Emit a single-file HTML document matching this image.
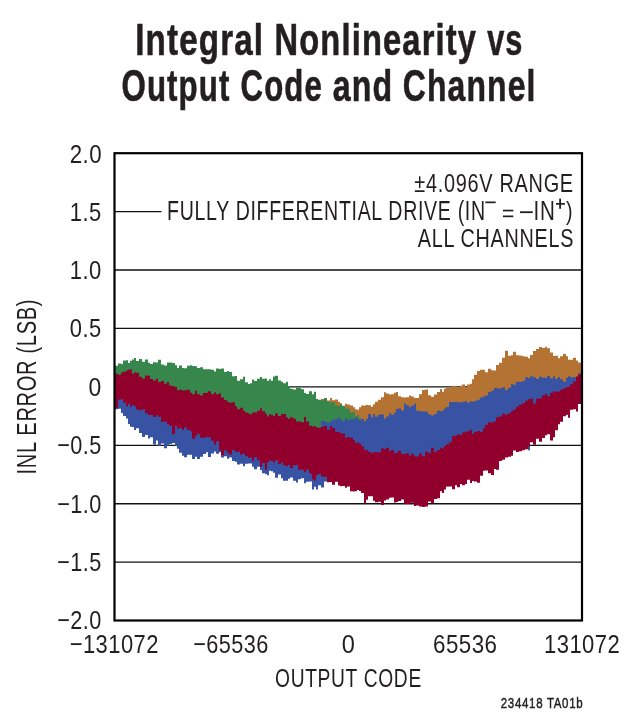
<!DOCTYPE html>
<html><head><meta charset="utf-8"><style>
html,body{margin:0;padding:0;background:#fff;width:637px;height:725px;overflow:hidden}
svg{display:block}
</style></head><body>
<svg width="637" height="725" viewBox="0 0 637 725" style="will-change:transform">
<rect width="637" height="725" fill="#fff"/>
<line x1="114.5" y1="211.6" x2="161.5" y2="211.6" stroke="#111" stroke-width="1.35"/>
<line x1="114.5" y1="270.0" x2="582.0" y2="270.0" stroke="#111" stroke-width="1.35"/>
<line x1="114.5" y1="328.4" x2="582.0" y2="328.4" stroke="#111" stroke-width="1.35"/>
<line x1="114.5" y1="386.8" x2="582.0" y2="386.8" stroke="#111" stroke-width="1.35"/>
<line x1="114.5" y1="445.3" x2="582.0" y2="445.3" stroke="#111" stroke-width="1.35"/>
<line x1="114.5" y1="503.7" x2="582.0" y2="503.7" stroke="#111" stroke-width="1.35"/>
<line x1="114.5" y1="562.1" x2="582.0" y2="562.1" stroke="#111" stroke-width="1.35"/>
<path d="M115.00,373.29 118.00,373.29 118.00,370.38 121.00,370.38 121.00,370.82 123.00,370.82 123.00,372.26 126.00,372.26 126.00,369.47 128.00,369.47 128.00,371.46 130.00,371.46 130.00,372.34 132.00,372.34 132.00,365.43 134.00,365.43 134.00,368.07 136.00,368.07 136.00,369.70 139.00,369.70 139.00,373.46 142.00,373.46 142.00,374.12 145.00,374.12 145.00,370.33 148.00,370.33 148.00,371.74 150.00,371.74 150.00,370.79 153.00,370.79 153.00,370.42 156.00,370.42 156.00,370.74 158.00,370.74 158.00,368.33 161.00,368.33 161.00,369.02 164.00,369.02 164.00,372.48 167.00,372.48 167.00,374.06 169.00,374.06 169.00,372.20 172.00,372.20 172.00,371.72 175.00,371.72 175.00,371.66 177.00,371.66 177.00,377.15 179.00,377.15 179.00,374.43 182.00,374.43 182.00,373.61 184.00,373.61 184.00,377.84 187.00,377.84 187.00,374.75 190.00,374.75 190.00,377.14 192.00,377.14 192.00,373.28 195.00,373.28 195.00,376.94 197.00,376.94 197.00,374.37 200.00,374.37 200.00,378.54 203.00,378.54 203.00,377.50 206.00,377.50 206.00,375.93 208.00,375.93 208.00,376.02 211.00,376.02 211.00,377.46 214.00,377.46 214.00,378.91 216.00,378.91 216.00,376.83 219.00,376.83 219.00,376.73 221.00,376.73 221.00,379.80 224.00,379.80 224.00,380.38 227.00,380.38 227.00,379.77 229.00,379.77 229.00,384.16 232.00,384.16 232.00,386.50 235.00,386.50 235.00,389.74 237.00,389.74 237.00,388.42 240.00,388.42 240.00,388.68 243.00,388.68 243.00,390.17 245.00,390.17 245.00,390.77 248.00,390.77 248.00,389.10 250.00,389.10 250.00,392.15 252.00,392.15 252.00,389.37 254.00,389.37 254.00,391.75 257.00,391.75 257.00,388.29 260.00,388.29 260.00,387.22 262.00,387.22 262.00,388.75 265.00,388.75 265.00,387.49 267.00,387.49 267.00,392.14 269.00,392.14 269.00,392.22 271.00,392.22 271.00,390.59 273.00,390.59 273.00,392.48 275.00,392.48 275.00,393.75 278.00,393.75 278.00,391.79 281.00,391.79 281.00,391.24 283.00,391.24 283.00,389.64 286.00,389.64 286.00,394.72 288.00,394.72 288.00,394.62 290.00,394.62 290.00,396.64 293.00,396.64 293.00,395.91 296.00,395.91 296.00,397.40 298.00,397.40 298.00,394.88 301.00,394.88 301.00,396.69 304.00,396.69 304.00,400.15 306.00,400.15 306.00,399.94 309.00,399.94 309.00,397.40 312.00,397.40 312.00,400.14 314.00,400.14 314.00,401.58 316.00,401.58 316.00,403.23 318.00,403.23 318.00,400.14 321.00,400.14 321.00,399.10 324.00,399.10 324.00,398.39 327.00,398.39 327.00,400.42 330.00,400.42 330.00,398.04 332.00,398.04 332.00,400.22 335.00,400.22 335.00,399.61 338.00,399.61 338.00,401.80 340.00,401.80 340.00,403.21 342.00,403.21 342.00,406.87 345.00,406.87 345.00,403.84 347.00,403.84 347.00,404.62 350.00,404.62 350.00,405.51 353.00,405.51 353.00,407.36 355.00,407.36 355.00,409.31 357.00,409.31 357.00,409.69 359.00,409.69 359.00,407.24 361.00,407.24 361.00,405.42 364.00,405.42 364.00,405.53 366.00,405.53 366.00,404.96 368.00,404.96 368.00,405.37 371.00,405.37 371.00,406.82 373.00,406.82 373.00,404.37 375.00,404.37 375.00,401.83 378.00,401.83 378.00,399.77 381.00,399.77 381.00,397.24 384.00,397.24 384.00,392.32 386.00,392.32 386.00,393.62 389.00,393.62 389.00,394.46 391.00,394.46 391.00,394.20 394.00,394.20 394.00,392.72 396.00,392.72 396.00,391.96 398.00,391.96 398.00,396.16 401.00,396.16 401.00,397.34 404.00,397.34 404.00,397.38 406.00,397.38 406.00,397.18 409.00,397.18 409.00,395.43 411.00,395.43 411.00,396.47 414.00,396.47 414.00,397.97 416.00,397.97 416.00,397.93 419.00,397.93 419.00,394.23 422.00,394.23 422.00,390.01 425.00,390.01 425.00,389.42 428.00,389.42 428.00,395.22 431.00,395.22 431.00,396.79 434.00,396.79 434.00,394.49 437.00,394.49 437.00,391.97 440.00,391.97 440.00,388.98 442.00,388.98 442.00,391.63 444.00,391.63 444.00,388.87 446.00,388.87 446.00,388.11 449.00,388.11 449.00,388.08 452.00,388.08 452.00,385.87 455.00,385.87 455.00,386.24 457.00,386.24 457.00,387.70 460.00,387.70 460.00,385.64 462.00,385.64 462.00,384.39 465.00,384.39 465.00,386.91 467.00,386.91 467.00,384.39 470.00,384.39 470.00,383.64 472.00,383.64 472.00,379.14 474.00,379.14 474.00,374.64 477.00,374.64 477.00,371.07 480.00,371.07 480.00,369.78 483.00,369.78 483.00,369.84 485.00,369.84 485.00,372.15 488.00,372.15 488.00,368.79 491.00,368.79 491.00,370.14 494.00,370.14 494.00,370.45 496.00,370.45 496.00,365.05 499.00,365.05 499.00,362.80 502.00,362.80 502.00,357.64 505.00,357.64 505.00,350.86 508.00,350.86 508.00,355.73 511.00,355.73 511.00,355.13 513.00,355.13 513.00,351.65 516.00,351.65 516.00,355.33 519.00,355.33 519.00,355.47 522.00,355.47 522.00,356.14 525.00,356.14 525.00,356.87 528.00,356.87 528.00,358.22 530.00,358.22 530.00,355.12 533.00,355.12 533.00,350.99 536.00,350.99 536.00,349.00 539.00,349.00 539.00,347.12 542.00,347.12 542.00,348.00 545.00,348.00 545.00,346.69 547.00,346.69 547.00,348.14 550.00,348.14 550.00,352.54 553.00,352.54 553.00,356.12 555.00,356.12 555.00,355.87 558.00,355.87 558.00,358.33 560.00,358.33 560.00,356.13 563.00,356.13 563.00,354.00 566.00,354.00 566.00,356.17 568.00,356.17 568.00,359.77 570.00,359.77 570.00,359.64 573.00,359.64 573.00,357.83 576.00,357.83 576.00,360.54 578.00,360.54 578.00,362.62 581.00,362.62 581.00,382.60 578.00,382.60 578.00,387.87 576.00,387.87 576.00,384.03 573.00,384.03 573.00,387.01 570.00,387.01 570.00,391.13 568.00,391.13 568.00,388.01 566.00,388.01 566.00,386.60 563.00,386.60 563.00,393.27 560.00,393.27 560.00,386.18 558.00,386.18 558.00,386.96 555.00,386.96 555.00,389.52 553.00,389.52 553.00,386.47 550.00,386.47 550.00,387.51 547.00,387.51 547.00,389.63 545.00,389.63 545.00,389.02 542.00,389.02 542.00,389.62 539.00,389.62 539.00,391.81 536.00,391.81 536.00,385.98 533.00,385.98 533.00,387.39 530.00,387.39 530.00,385.58 528.00,385.58 528.00,390.56 525.00,390.56 525.00,391.15 522.00,391.15 522.00,397.36 519.00,397.36 519.00,392.45 516.00,392.45 516.00,396.89 513.00,396.89 513.00,397.74 511.00,397.74 511.00,404.36 508.00,404.36 508.00,399.58 505.00,399.58 505.00,398.61 502.00,398.61 502.00,400.67 499.00,400.67 499.00,397.80 496.00,397.80 496.00,400.94 494.00,400.94 494.00,407.86 491.00,407.86 491.00,404.86 488.00,404.86 488.00,405.65 485.00,405.65 485.00,411.62 483.00,411.62 483.00,412.39 480.00,412.39 480.00,409.72 477.00,409.72 477.00,420.51 474.00,420.51 474.00,410.79 472.00,410.79 472.00,415.68 470.00,415.68 470.00,407.70 467.00,407.70 467.00,407.44 465.00,407.44 465.00,413.33 462.00,413.33 462.00,406.80 460.00,406.80 460.00,409.43 457.00,409.43 457.00,410.81 455.00,410.81 455.00,412.03 452.00,412.03 452.00,409.53 449.00,409.53 449.00,415.45 446.00,415.45 446.00,415.82 444.00,415.82 444.00,422.37 442.00,422.37 442.00,423.76 440.00,423.76 440.00,427.41 437.00,427.41 437.00,428.13 434.00,428.13 434.00,429.97 431.00,429.97 431.00,426.17 428.00,426.17 428.00,427.17 425.00,427.17 425.00,424.61 422.00,424.61 422.00,421.70 419.00,421.70 419.00,420.90 416.00,420.90 416.00,421.07 414.00,421.07 414.00,421.25 411.00,421.25 411.00,419.05 409.00,419.05 409.00,422.64 406.00,422.64 406.00,422.40 404.00,422.40 404.00,421.15 401.00,421.15 401.00,418.37 398.00,418.37 398.00,419.04 396.00,419.04 396.00,420.78 394.00,420.78 394.00,428.43 391.00,428.43 391.00,427.01 389.00,427.01 389.00,428.20 386.00,428.20 386.00,425.09 384.00,425.09 384.00,426.12 381.00,426.12 381.00,421.14 378.00,421.14 378.00,427.92 375.00,427.92 375.00,424.45 373.00,424.45 373.00,430.13 371.00,430.13 371.00,430.97 368.00,430.97 368.00,432.35 366.00,432.35 366.00,432.85 364.00,432.85 364.00,429.56 361.00,429.56 361.00,428.24 359.00,428.24 359.00,428.67 357.00,428.67 357.00,428.40 355.00,428.40 355.00,431.48 353.00,431.48 353.00,428.58 350.00,428.58 350.00,428.82 347.00,428.82 347.00,429.82 345.00,429.82 345.00,428.86 342.00,428.86 342.00,430.46 340.00,430.46 340.00,426.79 338.00,426.79 338.00,427.54 335.00,427.54 335.00,428.92 332.00,428.92 332.00,429.83 330.00,429.83 330.00,432.73 327.00,432.73 327.00,432.97 324.00,432.97 324.00,432.90 321.00,432.90 321.00,446.47 318.00,446.47 318.00,444.84 316.00,444.84 316.00,442.24 314.00,442.24 314.00,440.39 312.00,440.39 312.00,440.58 309.00,440.58 309.00,449.18 306.00,449.18 306.00,441.55 304.00,441.55 304.00,437.71 301.00,437.71 301.00,436.89 298.00,436.89 298.00,435.70 296.00,435.70 296.00,435.13 293.00,435.13 293.00,437.51 290.00,437.51 290.00,434.62 288.00,434.62 288.00,435.47 286.00,435.47 286.00,436.26 283.00,436.26 283.00,435.15 281.00,435.15 281.00,434.11 278.00,434.11 278.00,431.04 275.00,431.04 275.00,433.85 273.00,433.85 273.00,432.67 271.00,432.67 271.00,434.29 269.00,434.29 269.00,432.18 267.00,432.18 267.00,429.93 265.00,429.93 265.00,440.22 262.00,440.22 262.00,432.48 260.00,432.48 260.00,439.79 257.00,439.79 257.00,433.23 254.00,433.23 254.00,429.03 252.00,429.03 252.00,428.06 250.00,428.06 250.00,428.24 248.00,428.24 248.00,428.24 245.00,428.24 245.00,425.42 243.00,425.42 243.00,425.65 240.00,425.65 240.00,429.87 237.00,429.87 237.00,425.12 235.00,425.12 235.00,418.78 232.00,418.78 232.00,420.36 229.00,420.36 229.00,415.30 227.00,415.30 227.00,413.98 224.00,413.98 224.00,418.38 221.00,418.38 221.00,417.31 219.00,417.31 219.00,414.37 216.00,414.37 216.00,413.79 214.00,413.79 214.00,414.25 211.00,414.25 211.00,418.82 208.00,418.82 208.00,413.46 206.00,413.46 206.00,412.00 203.00,412.00 203.00,412.21 200.00,412.21 200.00,409.25 197.00,409.25 197.00,413.92 195.00,413.92 195.00,412.71 192.00,412.71 192.00,410.84 190.00,410.84 190.00,410.93 187.00,410.93 187.00,410.53 184.00,410.53 184.00,406.96 182.00,406.96 182.00,409.93 179.00,409.93 179.00,406.55 177.00,406.55 177.00,408.41 175.00,408.41 175.00,405.71 172.00,405.71 172.00,404.20 169.00,404.20 169.00,410.06 167.00,410.06 167.00,400.46 164.00,400.46 164.00,400.68 161.00,400.68 161.00,399.77 158.00,399.77 158.00,400.67 156.00,400.67 156.00,398.28 153.00,398.28 153.00,393.26 150.00,393.26 150.00,398.81 148.00,398.81 148.00,397.15 145.00,397.15 145.00,394.71 142.00,394.71 142.00,395.01 139.00,395.01 139.00,394.22 136.00,394.22 136.00,393.10 134.00,393.10 134.00,388.64 132.00,388.64 132.00,389.47 130.00,389.47 130.00,390.40 128.00,390.40 128.00,388.59 126.00,388.59 126.00,388.12 123.00,388.12 123.00,390.75 121.00,390.75 121.00,394.19 118.00,394.19 118.00,393.12 115.00,393.12Z" fill="#b57333"/>
<path d="M115.00,365.82 118.00,365.82 118.00,363.38 121.00,363.38 121.00,363.97 123.00,363.97 123.00,360.59 126.00,360.59 126.00,360.33 128.00,360.33 128.00,362.90 130.00,362.90 130.00,360.84 132.00,360.84 132.00,359.60 134.00,359.60 134.00,358.09 136.00,358.09 136.00,361.09 139.00,361.09 139.00,358.89 142.00,358.89 142.00,361.86 145.00,361.86 145.00,359.47 148.00,359.47 148.00,362.84 150.00,362.84 150.00,363.91 153.00,363.91 153.00,362.30 156.00,362.30 156.00,362.62 158.00,362.62 158.00,359.80 161.00,359.80 161.00,364.61 164.00,364.61 164.00,365.43 167.00,365.43 167.00,362.43 169.00,362.43 169.00,362.43 172.00,362.43 172.00,363.11 175.00,363.11 175.00,365.34 177.00,365.34 177.00,367.88 179.00,367.88 179.00,365.47 182.00,365.47 182.00,367.90 184.00,367.90 184.00,368.17 187.00,368.17 187.00,365.85 190.00,365.85 190.00,365.34 192.00,365.34 192.00,365.94 195.00,365.94 195.00,366.13 197.00,366.13 197.00,368.08 200.00,368.08 200.00,367.17 203.00,367.17 203.00,369.20 206.00,369.20 206.00,369.18 208.00,369.18 208.00,369.27 211.00,369.27 211.00,369.74 214.00,369.74 214.00,371.38 216.00,371.38 216.00,368.42 219.00,368.42 219.00,368.97 221.00,368.97 221.00,368.49 224.00,368.49 224.00,371.94 227.00,371.94 227.00,371.08 229.00,371.08 229.00,371.93 232.00,371.93 232.00,376.28 235.00,376.28 235.00,376.11 237.00,376.11 237.00,380.77 240.00,380.77 240.00,379.16 243.00,379.16 243.00,376.70 245.00,376.70 245.00,382.14 248.00,382.14 248.00,383.92 250.00,383.92 250.00,383.31 252.00,383.31 252.00,379.54 254.00,379.54 254.00,380.96 257.00,380.96 257.00,378.66 260.00,378.66 260.00,377.07 262.00,377.07 262.00,378.80 265.00,378.80 265.00,378.45 267.00,378.45 267.00,380.81 269.00,380.81 269.00,379.37 271.00,379.37 271.00,380.77 273.00,380.77 273.00,376.52 275.00,376.52 275.00,375.74 278.00,375.74 278.00,380.62 281.00,380.62 281.00,381.75 283.00,381.75 283.00,383.21 286.00,383.21 286.00,381.77 288.00,381.77 288.00,386.30 290.00,386.30 290.00,388.64 293.00,388.64 293.00,389.51 296.00,389.51 296.00,387.61 298.00,387.61 298.00,387.99 301.00,387.99 301.00,389.37 304.00,389.37 304.00,393.07 306.00,393.07 306.00,393.89 309.00,393.89 309.00,391.26 312.00,391.26 312.00,394.34 314.00,394.34 314.00,391.78 316.00,391.78 316.00,398.89 318.00,398.89 318.00,399.85 321.00,399.85 321.00,400.25 324.00,400.25 324.00,398.00 327.00,398.00 327.00,401.48 330.00,401.48 330.00,402.44 332.00,402.44 332.00,401.92 335.00,401.92 335.00,405.58 338.00,405.58 338.00,405.81 340.00,405.81 340.00,404.10 342.00,404.10 342.00,405.85 345.00,405.85 345.00,408.54 347.00,408.54 347.00,408.65 350.00,408.65 350.00,412.56 353.00,412.56 353.00,411.59 355.00,411.59 355.00,416.84 357.00,416.84 357.00,415.32 359.00,415.32 359.00,417.64 361.00,417.64 361.00,421.45 364.00,421.45 364.00,421.72 366.00,421.72 366.00,422.69 368.00,422.69 368.00,421.82 371.00,421.82 371.00,426.47 373.00,426.47 373.00,424.67 375.00,424.67 375.00,426.90 378.00,426.90 378.00,429.38 381.00,429.38 381.00,429.65 384.00,429.65 384.00,433.05 386.00,433.05 386.00,432.16 389.00,432.16 389.00,430.37 391.00,430.37 391.00,431.51 394.00,431.51 394.00,432.23 396.00,432.23 396.00,432.56 398.00,432.56 398.00,435.42 401.00,435.42 401.00,436.13 404.00,436.13 404.00,434.54 406.00,434.54 406.00,431.02 409.00,431.02 409.00,437.34 411.00,437.34 411.00,439.66 414.00,439.66 414.00,441.31 416.00,441.31 416.00,437.48 419.00,437.48 419.00,439.37 422.00,439.37 422.00,436.75 425.00,436.75 425.00,438.94 428.00,438.94 428.00,436.49 431.00,436.49 431.00,436.99 434.00,436.99 434.00,436.03 437.00,436.03 437.00,432.17 440.00,432.17 440.00,431.10 442.00,431.10 442.00,430.81 444.00,430.81 444.00,431.36 446.00,431.36 446.00,430.53 449.00,430.53 449.00,428.59 452.00,428.59 452.00,429.57 455.00,429.57 455.00,428.56 457.00,428.56 457.00,420.25 460.00,420.25 460.00,422.10 462.00,422.10 462.00,425.94 465.00,425.94 465.00,426.08 467.00,426.08 467.00,422.20 470.00,422.20 470.00,423.82 472.00,423.82 472.00,423.43 474.00,423.43 474.00,420.87 477.00,420.87 477.00,419.65 480.00,419.65 480.00,416.26 483.00,416.26 483.00,413.78 485.00,413.78 485.00,415.98 488.00,415.98 488.00,416.07 491.00,416.07 491.00,412.02 494.00,412.02 494.00,406.56 496.00,406.56 496.00,413.00 499.00,413.00 499.00,409.54 502.00,409.54 502.00,406.95 505.00,406.95 505.00,408.60 508.00,408.60 508.00,408.11 511.00,408.11 511.00,408.14 513.00,408.14 513.00,407.80 516.00,407.80 516.00,405.64 519.00,405.64 519.00,407.42 522.00,407.42 522.00,405.09 525.00,405.09 525.00,405.58 528.00,405.58 528.00,402.91 530.00,402.91 530.00,402.41 533.00,402.41 533.00,403.54 536.00,403.54 536.00,399.24 539.00,399.24 539.00,400.21 542.00,400.21 542.00,398.29 545.00,398.29 545.00,400.66 547.00,400.66 547.00,397.82 550.00,397.82 550.00,398.01 553.00,398.01 553.00,398.70 555.00,398.70 555.00,396.94 558.00,396.94 558.00,393.92 560.00,393.92 560.00,392.45 563.00,392.45 563.00,395.09 566.00,395.09 566.00,391.73 568.00,391.73 568.00,390.42 570.00,390.42 570.00,392.44 573.00,392.44 573.00,389.56 576.00,389.56 576.00,393.10 578.00,393.10 578.00,390.69 581.00,390.69 581.00,389.90 578.00,389.90 578.00,387.30 576.00,387.30 576.00,388.81 573.00,388.81 573.00,397.05 570.00,397.05 570.00,393.80 568.00,393.80 568.00,400.50 566.00,400.50 566.00,401.99 563.00,401.99 563.00,407.13 560.00,407.13 560.00,402.15 558.00,402.15 558.00,401.59 555.00,401.59 555.00,403.82 553.00,403.82 553.00,400.88 550.00,400.88 550.00,409.28 547.00,409.28 547.00,404.54 545.00,404.54 545.00,416.85 542.00,416.85 542.00,409.70 539.00,409.70 539.00,410.07 536.00,410.07 536.00,412.29 533.00,412.29 533.00,413.51 530.00,413.51 530.00,409.99 528.00,409.99 528.00,411.51 525.00,411.51 525.00,411.78 522.00,411.78 522.00,413.73 519.00,413.73 519.00,417.82 516.00,417.82 516.00,416.60 513.00,416.60 513.00,417.44 511.00,417.44 511.00,421.16 508.00,421.16 508.00,424.94 505.00,424.94 505.00,424.64 502.00,424.64 502.00,429.78 499.00,429.78 499.00,432.09 496.00,432.09 496.00,431.88 494.00,431.88 494.00,431.22 491.00,431.22 491.00,437.78 488.00,437.78 488.00,444.98 485.00,444.98 485.00,435.49 483.00,435.49 483.00,436.80 480.00,436.80 480.00,441.60 477.00,441.60 477.00,440.89 474.00,440.89 474.00,447.19 472.00,447.19 472.00,449.48 470.00,449.48 470.00,446.96 467.00,446.96 467.00,440.56 465.00,440.56 465.00,441.52 462.00,441.52 462.00,442.68 460.00,442.68 460.00,445.14 457.00,445.14 457.00,445.55 455.00,445.55 455.00,445.34 452.00,445.34 452.00,447.99 449.00,447.99 449.00,449.63 446.00,449.63 446.00,451.00 444.00,451.00 444.00,453.94 442.00,453.94 442.00,464.37 440.00,464.37 440.00,457.93 437.00,457.93 437.00,460.12 434.00,460.12 434.00,466.57 431.00,466.57 431.00,460.96 428.00,460.96 428.00,464.60 425.00,464.60 425.00,472.08 422.00,472.08 422.00,465.88 419.00,465.88 419.00,474.14 416.00,474.14 416.00,464.50 414.00,464.50 414.00,464.65 411.00,464.65 411.00,464.80 409.00,464.80 409.00,460.93 406.00,460.93 406.00,469.48 404.00,469.48 404.00,465.51 401.00,465.51 401.00,466.27 398.00,466.27 398.00,464.09 396.00,464.09 396.00,466.10 394.00,466.10 394.00,460.16 391.00,460.16 391.00,457.82 389.00,457.82 389.00,457.87 386.00,457.87 386.00,460.42 384.00,460.42 384.00,462.32 381.00,462.32 381.00,457.65 378.00,457.65 378.00,461.50 375.00,461.50 375.00,459.21 373.00,459.21 373.00,461.86 371.00,461.86 371.00,457.43 368.00,457.43 368.00,457.81 366.00,457.81 366.00,454.59 364.00,454.59 364.00,455.29 361.00,455.29 361.00,460.00 359.00,460.00 359.00,452.49 357.00,452.49 357.00,457.31 355.00,457.31 355.00,451.86 353.00,451.86 353.00,449.41 350.00,449.41 350.00,449.45 347.00,449.45 347.00,444.63 345.00,444.63 345.00,444.10 342.00,444.10 342.00,440.73 340.00,440.73 340.00,440.29 338.00,440.29 338.00,443.00 335.00,443.00 335.00,440.87 332.00,440.87 332.00,436.67 330.00,436.67 330.00,435.11 327.00,435.11 327.00,434.48 324.00,434.48 324.00,433.99 321.00,433.99 321.00,432.20 318.00,432.20 318.00,433.92 316.00,433.92 316.00,438.14 314.00,438.14 314.00,436.92 312.00,436.92 312.00,433.27 309.00,433.27 309.00,443.40 306.00,443.40 306.00,432.27 304.00,432.27 304.00,432.37 301.00,432.37 301.00,431.63 298.00,431.63 298.00,433.22 296.00,433.22 296.00,433.21 293.00,433.21 293.00,424.95 290.00,424.95 290.00,434.68 288.00,434.68 288.00,425.63 286.00,425.63 286.00,425.47 283.00,425.47 283.00,429.34 281.00,429.34 281.00,427.40 278.00,427.40 278.00,426.34 275.00,426.34 275.00,427.56 273.00,427.56 273.00,427.92 271.00,427.92 271.00,424.92 269.00,424.92 269.00,422.07 267.00,422.07 267.00,421.65 265.00,421.65 265.00,423.05 262.00,423.05 262.00,424.92 260.00,424.92 260.00,431.52 257.00,431.52 257.00,424.38 254.00,424.38 254.00,423.10 252.00,423.10 252.00,419.33 250.00,419.33 250.00,420.18 248.00,420.18 248.00,424.63 245.00,424.63 245.00,422.91 243.00,422.91 243.00,426.67 240.00,426.67 240.00,417.45 237.00,417.45 237.00,414.15 235.00,414.15 235.00,422.88 232.00,422.88 232.00,409.64 229.00,409.64 229.00,408.54 227.00,408.54 227.00,406.27 224.00,406.27 224.00,405.76 221.00,405.76 221.00,404.90 219.00,404.90 219.00,400.38 216.00,400.38 216.00,400.83 214.00,400.83 214.00,403.05 211.00,403.05 211.00,404.31 208.00,404.31 208.00,402.16 206.00,402.16 206.00,399.61 203.00,399.61 203.00,401.67 200.00,401.67 200.00,400.75 197.00,400.75 197.00,401.26 195.00,401.26 195.00,402.65 192.00,402.65 192.00,403.73 190.00,403.73 190.00,402.23 187.00,402.23 187.00,401.80 184.00,401.80 184.00,397.45 182.00,397.45 182.00,397.35 179.00,397.35 179.00,399.73 177.00,399.73 177.00,397.08 175.00,397.08 175.00,394.83 172.00,394.83 172.00,401.40 169.00,401.40 169.00,391.25 167.00,391.25 167.00,391.24 164.00,391.24 164.00,386.91 161.00,386.91 161.00,394.17 158.00,394.17 158.00,390.00 156.00,390.00 156.00,386.74 153.00,386.74 153.00,386.42 150.00,386.42 150.00,385.22 148.00,385.22 148.00,386.60 145.00,386.60 145.00,382.90 142.00,382.90 142.00,383.84 139.00,383.84 139.00,384.33 136.00,384.33 136.00,386.20 134.00,386.20 134.00,390.39 132.00,390.39 132.00,384.52 130.00,384.52 130.00,383.68 128.00,383.68 128.00,384.73 126.00,384.73 126.00,384.94 123.00,384.94 123.00,382.66 121.00,382.66 121.00,381.36 118.00,381.36 118.00,380.46 115.00,380.46Z" fill="#37864b"/>
<path d="M115.00,383.66 118.00,383.66 118.00,382.13 121.00,382.13 121.00,382.70 123.00,382.70 123.00,382.22 126.00,382.22 126.00,382.19 128.00,382.19 128.00,379.55 130.00,379.55 130.00,379.76 132.00,379.76 132.00,380.95 134.00,380.95 134.00,379.10 136.00,379.10 136.00,382.92 139.00,382.92 139.00,383.89 142.00,383.89 142.00,381.51 145.00,381.51 145.00,385.36 148.00,385.36 148.00,385.19 150.00,385.19 150.00,383.76 153.00,383.76 153.00,387.16 156.00,387.16 156.00,380.93 158.00,380.93 158.00,385.02 161.00,385.02 161.00,389.54 164.00,389.54 164.00,389.01 167.00,389.01 167.00,390.21 169.00,390.21 169.00,394.23 172.00,394.23 172.00,394.90 175.00,394.90 175.00,394.44 177.00,394.44 177.00,393.18 179.00,393.18 179.00,393.30 182.00,393.30 182.00,397.87 184.00,397.87 184.00,397.60 187.00,397.60 187.00,397.46 190.00,397.46 190.00,400.25 192.00,400.25 192.00,399.15 195.00,399.15 195.00,402.06 197.00,402.06 197.00,398.85 200.00,398.85 200.00,397.84 203.00,397.84 203.00,400.44 206.00,400.44 206.00,401.33 208.00,401.33 208.00,401.01 211.00,401.01 211.00,403.47 214.00,403.47 214.00,404.21 216.00,404.21 216.00,403.72 219.00,403.72 219.00,402.20 221.00,402.20 221.00,404.39 224.00,404.39 224.00,407.66 227.00,407.66 227.00,408.11 229.00,408.11 229.00,411.96 232.00,411.96 232.00,414.01 235.00,414.01 235.00,412.92 237.00,412.92 237.00,412.78 240.00,412.78 240.00,413.96 243.00,413.96 243.00,414.95 245.00,414.95 245.00,419.55 248.00,419.55 248.00,422.21 250.00,422.21 250.00,415.42 252.00,415.42 252.00,421.51 254.00,421.51 254.00,419.35 257.00,419.35 257.00,422.57 260.00,422.57 260.00,421.22 262.00,421.22 262.00,420.15 265.00,420.15 265.00,422.08 267.00,422.08 267.00,423.13 269.00,423.13 269.00,423.49 271.00,423.49 271.00,425.44 273.00,425.44 273.00,422.75 275.00,422.75 275.00,422.26 278.00,422.26 278.00,424.96 281.00,424.96 281.00,426.33 283.00,426.33 283.00,426.95 286.00,426.95 286.00,426.82 288.00,426.82 288.00,424.89 290.00,424.89 290.00,427.20 293.00,427.20 293.00,426.15 296.00,426.15 296.00,430.41 298.00,430.41 298.00,427.52 301.00,427.52 301.00,431.13 304.00,431.13 304.00,431.74 306.00,431.74 306.00,429.71 309.00,429.71 309.00,432.89 312.00,432.89 312.00,433.48 314.00,433.48 314.00,433.76 316.00,433.76 316.00,435.74 318.00,435.74 318.00,433.64 321.00,433.64 321.00,420.95 324.00,420.95 324.00,421.69 327.00,421.69 327.00,422.75 330.00,422.75 330.00,421.28 332.00,421.28 332.00,419.74 335.00,419.74 335.00,418.91 338.00,418.91 338.00,417.29 340.00,417.29 340.00,419.62 342.00,419.62 342.00,421.25 345.00,421.25 345.00,418.28 347.00,418.28 347.00,420.05 350.00,420.05 350.00,419.00 353.00,419.00 353.00,419.73 355.00,419.73 355.00,417.08 357.00,417.08 357.00,418.69 359.00,418.69 359.00,420.43 361.00,420.43 361.00,419.12 364.00,419.12 364.00,421.25 366.00,421.25 366.00,418.66 368.00,418.66 368.00,414.14 371.00,414.14 371.00,417.37 373.00,417.37 373.00,414.00 375.00,414.00 375.00,416.67 378.00,416.67 378.00,414.84 381.00,414.84 381.00,414.52 384.00,414.52 384.00,418.49 386.00,418.49 386.00,416.38 389.00,416.38 389.00,413.13 391.00,413.13 391.00,414.79 394.00,414.79 394.00,412.62 396.00,412.62 396.00,409.12 398.00,409.12 398.00,408.39 401.00,408.39 401.00,410.43 404.00,410.43 404.00,403.64 406.00,403.64 406.00,405.20 409.00,405.20 409.00,407.33 411.00,407.33 411.00,405.79 414.00,405.79 414.00,403.87 416.00,403.87 416.00,410.85 419.00,410.85 419.00,411.34 422.00,411.34 422.00,411.58 425.00,411.58 425.00,411.87 428.00,411.87 428.00,414.22 431.00,414.22 431.00,415.47 434.00,415.47 434.00,413.98 437.00,413.98 437.00,410.72 440.00,410.72 440.00,411.20 442.00,411.20 442.00,410.64 444.00,410.64 444.00,408.57 446.00,408.57 446.00,407.03 449.00,407.03 449.00,401.88 452.00,401.88 452.00,402.25 455.00,402.25 455.00,402.05 457.00,402.05 457.00,402.32 460.00,402.32 460.00,402.46 462.00,402.46 462.00,401.77 465.00,401.77 465.00,401.03 467.00,401.03 467.00,402.77 470.00,402.77 470.00,401.24 472.00,401.24 472.00,401.75 474.00,401.75 474.00,401.02 477.00,401.02 477.00,399.67 480.00,399.67 480.00,397.59 483.00,397.59 483.00,396.56 485.00,396.56 485.00,395.54 488.00,395.54 488.00,392.16 491.00,392.16 491.00,390.83 494.00,390.83 494.00,387.91 496.00,387.91 496.00,388.37 499.00,388.37 499.00,388.54 502.00,388.54 502.00,387.32 505.00,387.32 505.00,389.95 508.00,389.95 508.00,387.77 511.00,387.77 511.00,384.03 513.00,384.03 513.00,384.66 516.00,384.66 516.00,381.83 519.00,381.83 519.00,382.04 522.00,382.04 522.00,380.92 525.00,380.92 525.00,377.22 528.00,377.22 528.00,378.10 530.00,378.10 530.00,376.15 533.00,376.15 533.00,377.22 536.00,377.22 536.00,379.11 539.00,379.11 539.00,376.69 542.00,376.69 542.00,377.77 545.00,377.77 545.00,378.00 547.00,378.00 547.00,375.95 550.00,375.95 550.00,378.55 553.00,378.55 553.00,376.27 555.00,376.27 555.00,378.70 558.00,378.70 558.00,376.98 560.00,376.98 560.00,379.34 563.00,379.34 563.00,381.85 566.00,381.85 566.00,377.74 568.00,377.74 568.00,376.30 570.00,376.30 570.00,377.20 573.00,377.20 573.00,376.95 576.00,376.95 576.00,378.11 578.00,378.11 578.00,373.25 581.00,373.25 581.00,399.83 578.00,399.83 578.00,400.17 576.00,400.17 576.00,407.25 573.00,407.25 573.00,407.66 570.00,407.66 570.00,410.52 568.00,410.52 568.00,415.11 566.00,415.11 566.00,411.53 563.00,411.53 563.00,414.33 560.00,414.33 560.00,421.94 558.00,421.94 558.00,424.53 555.00,424.53 555.00,424.75 553.00,424.75 553.00,429.01 550.00,429.01 550.00,428.93 547.00,428.93 547.00,431.48 545.00,431.48 545.00,431.74 542.00,431.74 542.00,435.61 539.00,435.61 539.00,433.93 536.00,433.93 536.00,439.35 533.00,439.35 533.00,439.24 530.00,439.24 530.00,450.21 528.00,450.21 528.00,443.74 525.00,443.74 525.00,443.63 522.00,443.63 522.00,443.07 519.00,443.07 519.00,447.11 516.00,447.11 516.00,450.10 513.00,450.10 513.00,451.25 511.00,451.25 511.00,451.53 508.00,451.53 508.00,454.50 505.00,454.50 505.00,452.05 502.00,452.05 502.00,456.91 499.00,456.91 499.00,465.66 496.00,465.66 496.00,465.96 494.00,465.96 494.00,465.48 491.00,465.48 491.00,467.05 488.00,467.05 488.00,465.24 485.00,465.24 485.00,465.69 483.00,465.69 483.00,465.99 480.00,465.99 480.00,473.81 477.00,473.81 477.00,481.60 474.00,481.60 474.00,479.55 472.00,479.55 472.00,477.82 470.00,477.82 470.00,474.13 467.00,474.13 467.00,471.88 465.00,471.88 465.00,475.05 462.00,475.05 462.00,476.73 460.00,476.73 460.00,475.76 457.00,475.76 457.00,480.35 455.00,480.35 455.00,478.55 452.00,478.55 452.00,480.75 449.00,480.75 449.00,486.35 446.00,486.35 446.00,487.06 444.00,487.06 444.00,484.69 442.00,484.69 442.00,484.79 440.00,484.79 440.00,489.84 437.00,489.84 437.00,496.88 434.00,496.88 434.00,494.06 431.00,494.06 431.00,497.04 428.00,497.04 428.00,496.12 425.00,496.12 425.00,501.09 422.00,501.09 422.00,506.01 419.00,506.01 419.00,503.78 416.00,503.78 416.00,502.62 414.00,502.62 414.00,498.00 411.00,498.00 411.00,497.67 409.00,497.67 409.00,502.04 406.00,502.04 406.00,496.44 404.00,496.44 404.00,494.82 401.00,494.82 401.00,492.66 398.00,492.66 398.00,492.15 396.00,492.15 396.00,496.05 394.00,496.05 394.00,491.18 391.00,491.18 391.00,491.63 389.00,491.63 389.00,491.56 386.00,491.56 386.00,494.07 384.00,494.07 384.00,495.32 381.00,495.32 381.00,493.24 378.00,493.24 378.00,494.73 375.00,494.73 375.00,490.54 373.00,490.54 373.00,489.89 371.00,489.89 371.00,492.45 368.00,492.45 368.00,494.60 366.00,494.60 366.00,491.16 364.00,491.16 364.00,492.06 361.00,492.06 361.00,490.36 359.00,490.36 359.00,488.50 357.00,488.50 357.00,487.36 355.00,487.36 355.00,485.47 353.00,485.47 353.00,482.72 350.00,482.72 350.00,479.88 347.00,479.88 347.00,486.26 345.00,486.26 345.00,483.02 342.00,483.02 342.00,486.04 340.00,486.04 340.00,475.85 338.00,475.85 338.00,475.43 335.00,475.43 335.00,475.94 332.00,475.94 332.00,477.09 330.00,477.09 330.00,481.38 327.00,481.38 327.00,481.56 324.00,481.56 324.00,487.51 321.00,487.51 321.00,485.22 318.00,485.22 318.00,489.50 316.00,489.50 316.00,486.68 314.00,486.68 314.00,489.59 312.00,489.59 312.00,481.52 309.00,481.52 309.00,481.74 306.00,481.74 306.00,483.24 304.00,483.24 304.00,478.35 301.00,478.35 301.00,479.20 298.00,479.20 298.00,482.45 296.00,482.45 296.00,480.76 293.00,480.76 293.00,477.38 290.00,477.38 290.00,478.75 288.00,478.75 288.00,480.79 286.00,480.79 286.00,480.87 283.00,480.87 283.00,478.21 281.00,478.21 281.00,474.44 278.00,474.44 278.00,477.63 275.00,477.63 275.00,472.67 273.00,472.67 273.00,471.34 271.00,471.34 271.00,470.84 269.00,470.84 269.00,475.37 267.00,475.37 267.00,473.92 265.00,473.92 265.00,473.31 262.00,473.31 262.00,470.09 260.00,470.09 260.00,466.78 257.00,466.78 257.00,469.20 254.00,469.20 254.00,466.86 252.00,466.86 252.00,463.60 250.00,463.60 250.00,463.49 248.00,463.49 248.00,463.75 245.00,463.75 245.00,466.21 243.00,466.21 243.00,463.69 240.00,463.69 240.00,464.52 237.00,464.52 237.00,461.76 235.00,461.76 235.00,460.93 232.00,460.93 232.00,457.38 229.00,457.38 229.00,458.68 227.00,458.68 227.00,456.26 224.00,456.26 224.00,457.55 221.00,457.55 221.00,452.33 219.00,452.33 219.00,453.69 216.00,453.69 216.00,451.41 214.00,451.41 214.00,453.41 211.00,453.41 211.00,456.93 208.00,456.93 208.00,452.24 206.00,452.24 206.00,454.08 203.00,454.08 203.00,456.63 200.00,456.63 200.00,458.95 197.00,458.95 197.00,456.84 195.00,456.84 195.00,459.10 192.00,459.10 192.00,454.80 190.00,454.80 190.00,454.69 187.00,454.69 187.00,457.36 184.00,457.36 184.00,455.67 182.00,455.67 182.00,452.68 179.00,452.68 179.00,448.63 177.00,448.63 177.00,445.95 175.00,445.95 175.00,442.88 172.00,442.88 172.00,444.04 169.00,444.04 169.00,445.79 167.00,445.79 167.00,448.19 164.00,448.19 164.00,443.42 161.00,443.42 161.00,445.76 158.00,445.76 158.00,440.56 156.00,440.56 156.00,444.60 153.00,444.60 153.00,437.29 150.00,437.29 150.00,438.62 148.00,438.62 148.00,435.10 145.00,435.10 145.00,437.01 142.00,437.01 142.00,432.93 139.00,432.93 139.00,428.34 136.00,428.34 136.00,430.01 134.00,430.01 134.00,426.91 132.00,426.91 132.00,426.77 130.00,426.77 130.00,423.95 128.00,423.95 128.00,418.39 126.00,418.39 126.00,415.90 123.00,415.90 123.00,413.09 121.00,413.09 121.00,408.72 118.00,408.72 118.00,409.34 115.00,409.34Z" fill="#3853a3"/>
<path d="M115.00,373.69 118.00,373.69 118.00,374.75 121.00,374.75 121.00,372.54 123.00,372.54 123.00,371.86 126.00,371.86 126.00,370.38 128.00,370.38 128.00,369.77 130.00,369.77 130.00,369.61 132.00,369.61 132.00,373.68 134.00,373.68 134.00,372.28 136.00,372.28 136.00,372.64 139.00,372.64 139.00,376.64 142.00,376.64 142.00,378.65 145.00,378.65 145.00,375.58 148.00,375.58 148.00,375.71 150.00,375.71 150.00,379.11 153.00,379.11 153.00,380.59 156.00,380.59 156.00,378.66 158.00,378.66 158.00,381.96 161.00,381.96 161.00,380.88 164.00,380.88 164.00,383.73 167.00,383.73 167.00,381.93 169.00,381.93 169.00,385.59 172.00,385.59 172.00,386.32 175.00,386.32 175.00,387.08 177.00,387.08 177.00,390.37 179.00,390.37 179.00,389.71 182.00,389.71 182.00,390.55 184.00,390.55 184.00,390.25 187.00,390.25 187.00,389.76 190.00,389.76 190.00,392.63 192.00,392.63 192.00,394.26 195.00,394.26 195.00,390.85 197.00,390.85 197.00,394.15 200.00,394.15 200.00,395.43 203.00,395.43 203.00,393.05 206.00,393.05 206.00,392.63 208.00,392.63 208.00,391.28 211.00,391.28 211.00,394.19 214.00,394.19 214.00,392.56 216.00,392.56 216.00,394.22 219.00,394.22 219.00,393.15 221.00,393.15 221.00,397.59 224.00,397.59 224.00,400.02 227.00,400.02 227.00,401.75 229.00,401.75 229.00,402.63 232.00,402.63 232.00,402.35 235.00,402.35 235.00,406.37 237.00,406.37 237.00,409.13 240.00,409.13 240.00,407.79 243.00,407.79 243.00,410.72 245.00,410.72 245.00,412.58 248.00,412.58 248.00,413.54 250.00,413.54 250.00,414.54 252.00,414.54 252.00,412.55 254.00,412.55 254.00,412.49 257.00,412.49 257.00,410.73 260.00,410.73 260.00,408.13 262.00,408.13 262.00,411.17 265.00,411.17 265.00,413.84 267.00,413.84 267.00,416.57 269.00,416.57 269.00,414.24 271.00,414.24 271.00,415.01 273.00,415.01 273.00,416.11 275.00,416.11 275.00,413.44 278.00,413.44 278.00,415.96 281.00,415.96 281.00,414.11 283.00,414.11 283.00,414.02 286.00,414.02 286.00,417.49 288.00,417.49 288.00,418.66 290.00,418.66 290.00,417.34 293.00,417.34 293.00,418.84 296.00,418.84 296.00,421.55 298.00,421.55 298.00,421.51 301.00,421.51 301.00,422.16 304.00,422.16 304.00,417.02 306.00,417.02 306.00,421.43 309.00,421.43 309.00,425.71 312.00,425.71 312.00,426.53 314.00,426.53 314.00,426.32 316.00,426.32 316.00,427.34 318.00,427.34 318.00,427.66 321.00,427.66 321.00,426.69 324.00,426.69 324.00,426.08 327.00,426.08 327.00,429.66 330.00,429.66 330.00,426.09 332.00,426.09 332.00,428.04 335.00,428.04 335.00,431.77 338.00,431.77 338.00,432.08 340.00,432.08 340.00,433.35 342.00,433.35 342.00,433.39 345.00,433.39 345.00,437.93 347.00,437.93 347.00,437.01 350.00,437.01 350.00,437.87 353.00,437.87 353.00,440.14 355.00,440.14 355.00,443.06 357.00,443.06 357.00,442.23 359.00,442.23 359.00,443.57 361.00,443.57 361.00,446.25 364.00,446.25 364.00,449.78 366.00,449.78 366.00,449.98 368.00,449.98 368.00,451.68 371.00,451.68 371.00,453.24 373.00,453.24 373.00,452.33 375.00,452.33 375.00,452.05 378.00,452.05 378.00,452.59 381.00,452.59 381.00,448.61 384.00,448.61 384.00,448.91 386.00,448.91 386.00,447.86 389.00,447.86 389.00,451.29 391.00,451.29 391.00,449.92 394.00,449.92 394.00,453.24 396.00,453.24 396.00,452.84 398.00,452.84 398.00,450.79 401.00,450.79 401.00,454.03 404.00,454.03 404.00,453.93 406.00,453.93 406.00,453.27 409.00,453.27 409.00,455.82 411.00,455.82 411.00,453.86 414.00,453.86 414.00,456.22 416.00,456.22 416.00,456.46 419.00,456.46 419.00,453.46 422.00,453.46 422.00,456.28 425.00,456.28 425.00,451.83 428.00,451.83 428.00,453.21 431.00,453.21 431.00,447.70 434.00,447.70 434.00,452.00 437.00,452.00 437.00,449.92 440.00,449.92 440.00,447.83 442.00,447.83 442.00,448.52 444.00,448.52 444.00,446.03 446.00,446.03 446.00,444.45 449.00,444.45 449.00,442.14 452.00,442.14 452.00,435.90 455.00,435.90 455.00,435.47 457.00,435.47 457.00,434.45 460.00,434.45 460.00,434.88 462.00,434.88 462.00,432.46 465.00,432.46 465.00,431.73 467.00,431.73 467.00,431.26 470.00,431.26 470.00,429.79 472.00,429.79 472.00,434.09 474.00,434.09 474.00,431.93 477.00,431.93 477.00,431.02 480.00,431.02 480.00,432.03 483.00,432.03 483.00,428.22 485.00,428.22 485.00,424.66 488.00,424.66 488.00,422.17 491.00,422.17 491.00,422.50 494.00,422.50 494.00,421.21 496.00,421.21 496.00,417.14 499.00,417.14 499.00,416.38 502.00,416.38 502.00,413.81 505.00,413.81 505.00,414.41 508.00,414.41 508.00,413.30 511.00,413.30 511.00,411.01 513.00,411.01 513.00,409.71 516.00,409.71 516.00,406.68 519.00,406.68 519.00,404.85 522.00,404.85 522.00,403.28 525.00,403.28 525.00,400.85 528.00,400.85 528.00,399.16 530.00,399.16 530.00,398.83 533.00,398.83 533.00,403.44 536.00,403.44 536.00,398.86 539.00,398.86 539.00,398.27 542.00,398.27 542.00,395.38 545.00,395.38 545.00,393.84 547.00,393.84 547.00,396.16 550.00,396.16 550.00,392.64 553.00,392.64 553.00,391.41 555.00,391.41 555.00,391.38 558.00,391.38 558.00,391.40 560.00,391.40 560.00,389.63 563.00,389.63 563.00,388.28 566.00,388.28 566.00,387.23 568.00,387.23 568.00,387.10 570.00,387.10 570.00,384.31 573.00,384.31 573.00,381.43 576.00,381.43 576.00,376.60 578.00,376.60 578.00,374.59 581.00,374.59 581.00,404.05 578.00,404.05 578.00,411.39 576.00,411.39 576.00,409.14 573.00,409.14 573.00,409.64 570.00,409.64 570.00,417.65 568.00,417.65 568.00,414.28 566.00,414.28 566.00,416.24 563.00,416.24 563.00,421.67 560.00,421.67 560.00,424.15 558.00,424.15 558.00,430.22 555.00,430.22 555.00,437.31 553.00,437.31 553.00,440.42 550.00,440.42 550.00,434.26 547.00,434.26 547.00,435.37 545.00,435.37 545.00,438.05 542.00,438.05 542.00,441.76 539.00,441.76 539.00,438.77 536.00,438.77 536.00,444.75 533.00,444.75 533.00,442.17 530.00,442.17 530.00,446.60 528.00,446.60 528.00,449.22 525.00,449.22 525.00,450.15 522.00,450.15 522.00,451.16 519.00,451.16 519.00,451.98 516.00,451.98 516.00,450.58 513.00,450.58 513.00,455.78 511.00,455.78 511.00,456.72 508.00,456.72 508.00,457.51 505.00,457.51 505.00,459.82 502.00,459.82 502.00,461.11 499.00,461.11 499.00,469.87 496.00,469.87 496.00,469.01 494.00,469.01 494.00,474.90 491.00,474.90 491.00,473.27 488.00,473.27 488.00,470.58 485.00,470.58 485.00,470.71 483.00,470.71 483.00,475.79 480.00,475.79 480.00,482.74 477.00,482.74 477.00,481.13 474.00,481.13 474.00,480.94 472.00,480.94 472.00,482.97 470.00,482.97 470.00,479.77 467.00,479.77 467.00,484.00 465.00,484.00 465.00,485.26 462.00,485.26 462.00,483.99 460.00,483.99 460.00,487.20 457.00,487.20 457.00,485.31 455.00,485.31 455.00,489.28 452.00,489.28 452.00,486.48 449.00,486.48 449.00,486.47 446.00,486.47 446.00,489.62 444.00,489.62 444.00,492.89 442.00,492.89 442.00,491.20 440.00,491.20 440.00,498.20 437.00,498.20 437.00,498.88 434.00,498.88 434.00,503.13 431.00,503.13 431.00,501.54 428.00,501.54 428.00,506.43 425.00,506.43 425.00,507.05 422.00,507.05 422.00,506.49 419.00,506.49 419.00,505.41 416.00,505.41 416.00,506.05 414.00,506.05 414.00,502.68 411.00,502.68 411.00,503.72 409.00,503.72 409.00,503.91 406.00,503.91 406.00,503.65 404.00,503.65 404.00,499.45 401.00,499.45 401.00,500.94 398.00,500.94 398.00,501.91 396.00,501.91 396.00,502.57 394.00,502.57 394.00,497.52 391.00,497.52 391.00,497.81 389.00,497.81 389.00,499.39 386.00,499.39 386.00,500.53 384.00,500.53 384.00,504.96 381.00,504.96 381.00,501.64 378.00,501.64 378.00,502.21 375.00,502.21 375.00,500.67 373.00,500.67 373.00,496.25 371.00,496.25 371.00,496.31 368.00,496.31 368.00,499.81 366.00,499.81 366.00,503.39 364.00,503.39 364.00,492.96 361.00,492.96 361.00,491.03 359.00,491.03 359.00,489.93 357.00,489.93 357.00,491.23 355.00,491.23 355.00,491.56 353.00,491.56 353.00,491.24 350.00,491.24 350.00,486.41 347.00,486.41 347.00,487.78 345.00,487.78 345.00,486.07 342.00,486.07 342.00,486.29 340.00,486.29 340.00,485.42 338.00,485.42 338.00,481.75 335.00,481.75 335.00,484.67 332.00,484.67 332.00,481.91 330.00,481.91 330.00,482.14 327.00,482.14 327.00,476.85 324.00,476.85 324.00,476.77 321.00,476.77 321.00,474.07 318.00,474.07 318.00,475.25 316.00,475.25 316.00,480.86 314.00,480.86 314.00,479.14 312.00,479.14 312.00,473.51 309.00,473.51 309.00,469.47 306.00,469.47 306.00,472.32 304.00,472.32 304.00,469.69 301.00,469.69 301.00,469.65 298.00,469.65 298.00,465.02 296.00,465.02 296.00,465.17 293.00,465.17 293.00,468.03 290.00,468.03 290.00,465.01 288.00,465.01 288.00,466.22 286.00,466.22 286.00,465.36 283.00,465.36 283.00,462.34 281.00,462.34 281.00,463.96 278.00,463.96 278.00,460.22 275.00,460.22 275.00,462.55 273.00,462.55 273.00,460.77 271.00,460.77 271.00,460.81 269.00,460.81 269.00,462.37 267.00,462.37 267.00,469.80 265.00,469.80 265.00,462.99 262.00,462.99 262.00,466.73 260.00,466.73 260.00,460.30 257.00,460.30 257.00,457.00 254.00,457.00 254.00,460.96 252.00,460.96 252.00,457.39 250.00,457.39 250.00,457.81 248.00,457.81 248.00,456.27 245.00,456.27 245.00,453.39 243.00,453.39 243.00,454.54 240.00,454.54 240.00,451.77 237.00,451.77 237.00,451.67 235.00,451.67 235.00,450.01 232.00,450.01 232.00,454.54 229.00,454.54 229.00,453.07 227.00,453.07 227.00,450.16 224.00,450.16 224.00,455.18 221.00,455.18 221.00,450.29 219.00,450.29 219.00,441.19 216.00,441.19 216.00,444.41 214.00,444.41 214.00,440.75 211.00,440.75 211.00,437.33 208.00,437.33 208.00,436.63 206.00,436.63 206.00,437.81 203.00,437.81 203.00,437.72 200.00,437.72 200.00,434.08 197.00,434.08 197.00,436.14 195.00,436.14 195.00,438.74 192.00,438.74 192.00,431.19 190.00,431.19 190.00,429.68 187.00,429.68 187.00,427.34 184.00,427.34 184.00,430.08 182.00,430.08 182.00,428.01 179.00,428.01 179.00,428.75 177.00,428.75 177.00,425.94 175.00,425.94 175.00,433.94 172.00,433.94 172.00,425.48 169.00,425.48 169.00,424.18 167.00,424.18 167.00,421.57 164.00,421.57 164.00,421.70 161.00,421.70 161.00,416.77 158.00,416.77 158.00,415.32 156.00,415.32 156.00,416.97 153.00,416.97 153.00,415.02 150.00,415.02 150.00,415.01 148.00,415.01 148.00,413.24 145.00,413.24 145.00,409.23 142.00,409.23 142.00,410.20 139.00,410.20 139.00,409.61 136.00,409.61 136.00,406.14 134.00,406.14 134.00,404.90 132.00,404.90 132.00,406.79 130.00,406.79 130.00,403.87 128.00,403.87 128.00,406.26 126.00,406.26 126.00,402.42 123.00,402.42 123.00,398.88 121.00,398.88 121.00,399.81 118.00,399.81 118.00,408.30 115.00,408.30Z" fill="#91002c"/>
<rect x="114.5" y="153.2" width="467.50" height="467.30" fill="none" stroke="#000" stroke-width="2.2"/>
<g font-family="'Liberation Sans', sans-serif" fill="#231f20">
<text transform="translate(135.18,55.0) scale(0.7336,1)" font-size="45.217" font-weight="bold" letter-spacing="1.583" stroke="#231f20" stroke-width="0.6">Integral</text>
<text transform="translate(274.51,55.0) scale(0.723,1)" font-size="45.217" font-weight="bold" letter-spacing="1.583" stroke="#231f20" stroke-width="0.6">Nonlinearity</text>
<text transform="translate(487.19,55.0) scale(0.6797,1)" font-size="45.217" font-weight="bold" letter-spacing="1.583" stroke="#231f20" stroke-width="0.6">vs</text>
<text transform="translate(121.55,100.9) scale(0.6952,1)" font-size="44.928" font-weight="bold" letter-spacing="1.572" stroke="#231f20" stroke-width="0.6">Output</text>
<text transform="translate(240.55,100.9) scale(0.6941,1)" font-size="44.928" font-weight="bold" letter-spacing="1.572" stroke="#231f20" stroke-width="0.6">Code</text>
<text transform="translate(332.83,100.9) scale(0.7161,1)" font-size="44.928" font-weight="bold" letter-spacing="1.572" stroke="#231f20" stroke-width="0.6">and</text>
<text transform="translate(402.82,100.9) scale(0.7102,1)" font-size="44.928" font-weight="bold" letter-spacing="1.572" stroke="#231f20" stroke-width="0.6">Channel</text>
<text transform="translate(69.68,162.54) scale(0.8517,1)" font-size="26.197" font-weight="normal" letter-spacing="0.524">2.0</text>
<text transform="translate(69.74,220.63) scale(0.8274,1)" font-size="26.571" font-weight="normal" letter-spacing="0.531">1.5</text>
<text transform="translate(69.74,279.04) scale(0.8392,1)" font-size="26.197" font-weight="normal" letter-spacing="0.524">1.0</text>
<text transform="translate(69.82,337.44) scale(0.837,1)" font-size="26.197" font-weight="normal" letter-spacing="0.524">0.5</text>
<text transform="translate(88.38,395.84) scale(0.8748,1)" font-size="26.197" font-weight="normal" letter-spacing="0.524">0</text>
<text transform="translate(57.22,454.24) scale(0.8264,1)" font-size="26.197" font-weight="normal" letter-spacing="0.524">−0.5</text>
<text transform="translate(57.22,512.64) scale(0.8264,1)" font-size="26.197" font-weight="normal" letter-spacing="0.524">−1.0</text>
<text transform="translate(57.22,571.03) scale(0.8148,1)" font-size="26.571" font-weight="normal" letter-spacing="0.531">−1.5</text>
<text transform="translate(57.22,629.04) scale(0.8264,1)" font-size="26.197" font-weight="normal" letter-spacing="0.524">−2.0</text>
<text transform="translate(69.7,652.94) scale(0.838,1)" font-size="26.197" font-weight="normal" letter-spacing="0.524">−131072</text>
<text transform="translate(193.22,652.94) scale(0.828,1)" font-size="26.197" font-weight="normal" letter-spacing="0.524">−65536</text>
<text transform="translate(341.86,652.94) scale(0.8986,1)" font-size="26.197" font-weight="normal" letter-spacing="0.524">0</text>
<text transform="translate(433.08,652.94) scale(0.8516,1)" font-size="26.197" font-weight="normal" letter-spacing="0.524">65536</text>
<text transform="translate(544.04,652.94) scale(0.8407,1)" font-size="26.197" font-weight="normal" letter-spacing="0.524">131072</text>
<text transform="translate(275.04,686.93) scale(0.7218,1)" font-size="26.62" font-weight="normal" letter-spacing="0.932">OUTPUT CODE</text>
<text transform="translate(414.3,191.8) scale(0.7476,1)" font-size="26.667" font-weight="normal" letter-spacing="0.933">±4.096V RANGE</text>
<text transform="translate(417.8,247.44) scale(0.7566,1)" font-size="26.197" font-weight="normal" letter-spacing="0.917">ALL CHANNELS</text>
<text transform="translate(167.03,220.0) scale(0.7219,1)" font-size="27.101" font-weight="normal" letter-spacing="0.949">FULLY DIFFERENTIAL DRIVE (IN</text>
<text transform="translate(533.45,219.8) scale(0.7635,1)" font-size="26.957" font-weight="normal" letter-spacing="0.943">IN</text>
<text transform="translate(565.9,219.93) scale(0.7526,1)" font-size="26.064" font-weight="normal">)</text>
<text transform="translate(500.72,707.75) scale(0.7811,1)" font-size="14.73" font-weight="normal" letter-spacing="0.884" stroke="#231f20" stroke-width="0.45">234418 TA01b</text>
<text transform="translate(35.9,474.51) rotate(-90) scale(0.7362,1)" font-size="27.246" font-weight="normal" letter-spacing="0.954">INL ERROR (LSB)</text>
<rect x="485.3" y="201.5" width="10.4" height="1.7"/>
<rect x="502.9" y="209.7" width="10.4" height="1.7"/>
<rect x="502.9" y="215.5" width="10.4" height="1.7"/>
<rect x="520.0" y="211.3" width="12.7" height="1.8"/>
<rect x="556.0" y="203.0" width="8.9" height="1.7"/>
<rect x="559.2" y="198.6" width="1.8" height="10.2"/>
</g>
</svg>
</body></html>
